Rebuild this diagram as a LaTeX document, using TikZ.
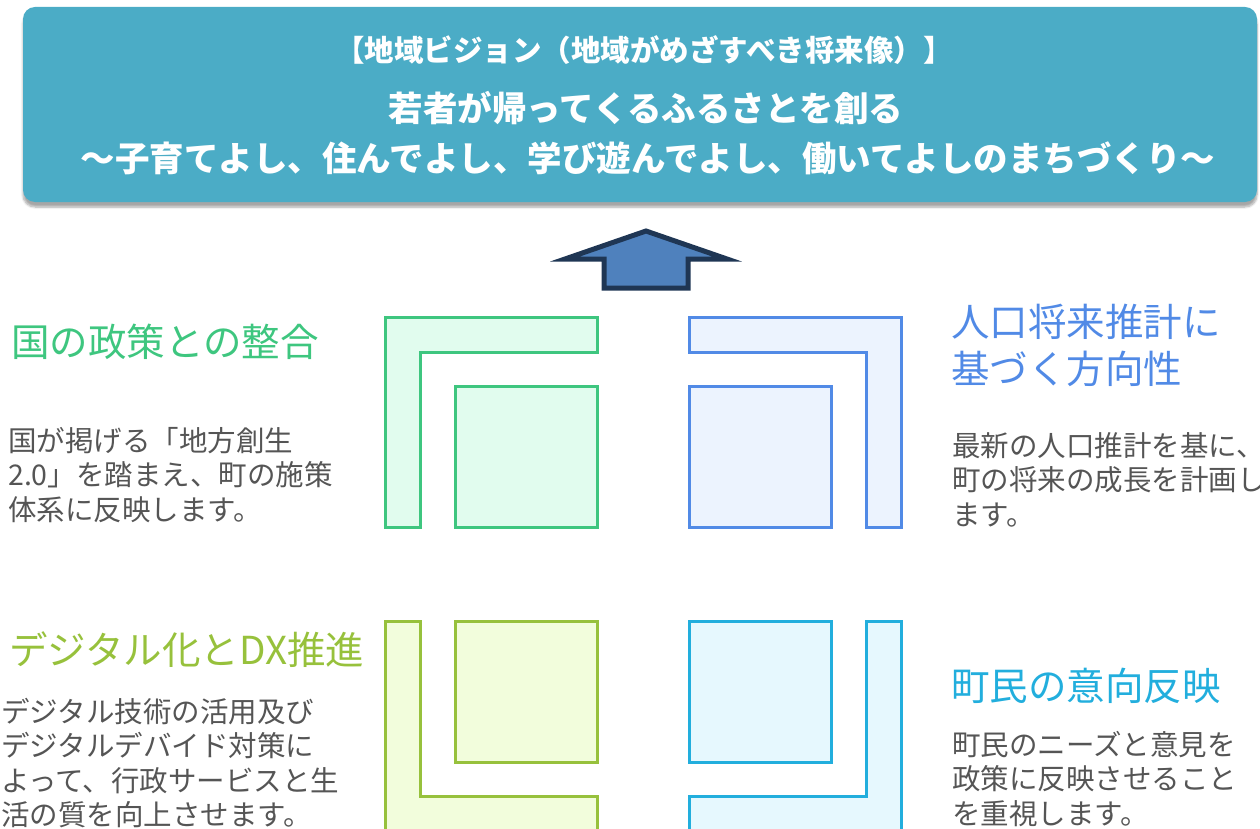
\documentclass[tikz,border=0pt]{standalone}
\usepackage{fontspec}
\setmainfont{Noto Sans CJK JP}
\usetikzlibrary{shadows.blur}
\definecolor{bannerc}{HTML}{4BACC6}
\definecolor{gstroke}{HTML}{3EC67F}
\definecolor{gfill}{HTML}{E1FCEE}
\definecolor{bstroke}{HTML}{518AE6}
\definecolor{bfill}{HTML}{ECF3FE}
\definecolor{ystroke}{HTML}{97C13C}
\definecolor{yfill}{HTML}{F2FDDC}
\definecolor{cstroke}{HTML}{22AEDD}
\definecolor{cfill}{HTML}{E6F8FE}
\definecolor{arrfill}{HTML}{4F81BD}
\definecolor{arrline}{HTML}{1F3654}
\definecolor{bodyc}{HTML}{555555}
\begin{document}
\begin{tikzpicture}[x=1pt,y=-1pt,
  shape3/.style={line width=3pt,line join=miter},
  ttl/.style={anchor=west,inner sep=0pt,font={\fontsize{38.5}{46}\selectfont}},
  body/.style={anchor=north west,inner sep=0pt,align=left,text=bodyc,font={\fontsize{28.5}{34.5}\selectfont}},
  bantxt/.style={text=white,inner sep=0pt,font={\bfseries\fontsize{34.5}{40}\selectfont}}]
\useasboundingbox (0,0) rectangle (1260,829);
\clip (0,0) rectangle (1260,829);
% banner
\node[fill=bannerc,rounded corners=12pt,minimum width=1234pt,minimum height=195pt,inner sep=0pt,
  blur shadow={shadow xshift=0pt,shadow yshift=-5pt,shadow blur steps=6,shadow opacity=35}] (banner) at (640,104.5) {};
\node[bantxt,font={\bfseries\fontsize{29.5}{34}\selectfont}] (l1) at (644,50) {【地域ビジョン（地域がめざすべき将来像）】};
\node[bantxt] (l2) at (646,108) {若者が帰ってくるふるさとを創る};
\node[bantxt] (l3) at (648,158) {～子育てよし、住んでよし、学び遊んでよし、働いてよしのまちづくり～};
% arrow
\draw[fill=arrfill,draw=arrline,line width=5pt,line join=miter] (646,231) -- (727,259) -- (688,259) -- (688,288) -- (604,288) -- (604,259) -- (565,259) -- cycle;
% top-left green
\draw[shape3,draw=gstroke,fill=gfill] (385,317) -- (597,317) -- (597,352) -- (420,352) -- (420,527) -- (385,527) -- cycle;
\draw[shape3,draw=gstroke,fill=gfill] (455,386) rectangle (597,527);
% top-right blue
\draw[shape3,draw=bstroke,fill=bfill] (901,317) -- (689,317) -- (689,352) -- (866,352) -- (866,527) -- (901,527) -- cycle;
\draw[shape3,draw=bstroke,fill=bfill] (689,386) rectangle (831,527);
% bottom-left yellow-green
\draw[shape3,draw=ystroke,fill=yfill] (385,621) -- (420,621) -- (420,796) -- (597,796) -- (597,831) -- (385,831) -- cycle;
\draw[shape3,draw=ystroke,fill=yfill] (455,621) rectangle (597,762);
% bottom-right cyan
\draw[shape3,draw=cstroke,fill=cfill] (901,621) -- (866,621) -- (866,796) -- (689,796) -- (689,831) -- (901,831) -- cycle;
\draw[shape3,draw=cstroke,fill=cfill] (689,621) rectangle (831,762);
% titles
\node[ttl,text=gstroke] (t1) at (11,342) {国の政策との整合};
\node[ttl,text=bstroke,align=left,anchor=north west,font={\fontsize{38.5}{47}\selectfont}] (t2) at (951,304) {人口将来推計に\\基づく方向性};
\node[ttl,text=ystroke] (t3) at (9,650) {デジタル化とDX推進};
\node[ttl,text=cstroke] (t4) at (951,686) {町民の意向反映};
% bodies
\node[body] (b1) at (8,427) {国が掲げる「地方創生\\2.0」を踏まえ、町の施策\\体系に反映します。};
\node[body] (b2) at (952,432) {最新の人口推計を基に、\\町の将来の成長を計画し\\ます。};
\node[body] (b3) at (1,698) {デジタル技術の活用及び\\デジタルデバイド対策に\\よって、行政サービスと生\\活の質を向上させます。};
\node[body] (b4) at (952,731) {町民のニーズと意見を\\政策に反映させること\\を重視します。};
\end{tikzpicture}
\end{document}
